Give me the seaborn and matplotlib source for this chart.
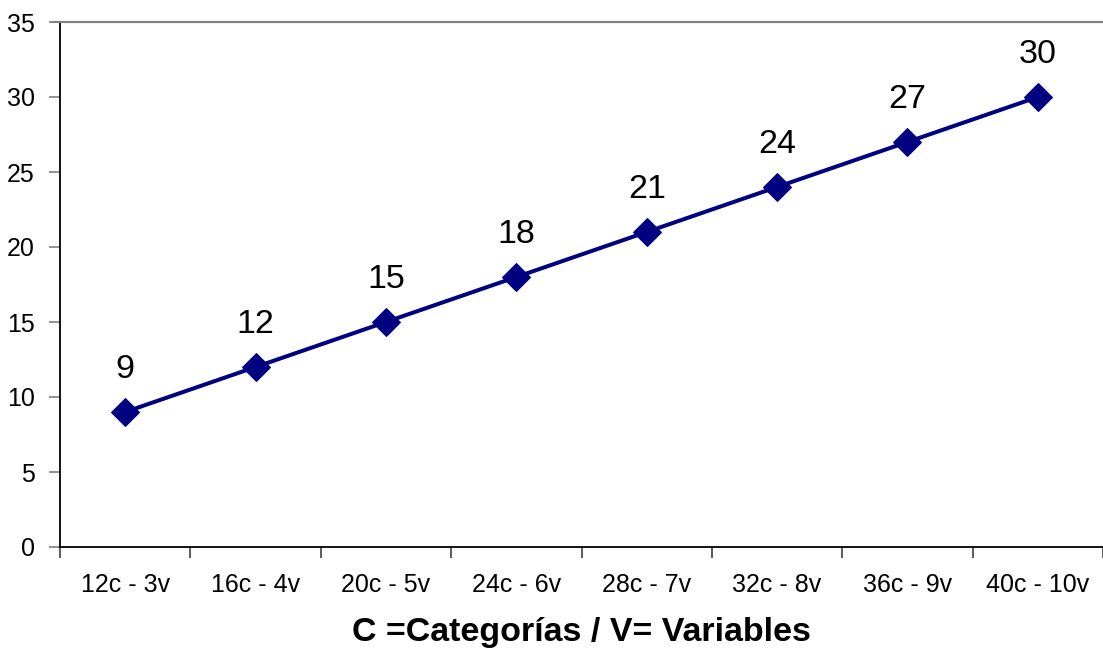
import matplotlib
matplotlib.use("Agg")
import matplotlib.pyplot as plt
import seaborn as sns
import numpy as np
import pandas as pd
from matplotlib.ticker import FixedLocator, MultipleLocator

categories = ["12c - 3v", "16c - 4v", "20c - 5v", "24c - 6v",
              "28c - 7v", "32c - 8v", "36c - 9v", "40c - 10v"]
values = [9, 12, 15, 18, 21, 24, 27, 30]
x_label = "C =Categorías / V= Variables"

sns.set_theme(style="white")
plt.rcParams['font.family'] = ['Liberation Sans', 'DejaVu Sans']
plt.rcParams['text.color'] = 'black'
plt.rcParams['axes.labelcolor'] = 'black'

df = pd.DataFrame({"cat": categories, "val": values})

fig = plt.figure(figsize=(11.03, 6.52), dpi=100)
ax = fig.add_axes([60/1103, 105/652, 1043/1103, 525/652])

navy = "#000080"
sns.lineplot(data=df, x="cat", y="val", ax=ax, color=navy, linewidth=2.9,
             marker="D", markersize=14.5, markeredgecolor=navy,
             markerfacecolor=navy, sort=False)

for i, v in enumerate(values):
    ax.annotate(str(v), (i, v), xytext=(0, 24.5), textcoords="offset points",
                ha="center", va="baseline", fontsize=24.5, color="black")

ax.set_xlim(-0.5, len(categories) - 0.5)
ax.set_ylim(0, 35)
ax.yaxis.set_major_locator(MultipleLocator(5))
ax.set_ylabel("")
ax.set_xlabel(x_label, fontsize=24.5, fontweight="bold", labelpad=14, color="black")

ax.xaxis.set_minor_locator(FixedLocator(np.arange(-0.5, len(categories), 1)))
ax.tick_params(axis="x", which="major", length=0, pad=19, labelsize=18,
               labelcolor="black")
ax.tick_params(axis="x", which="minor", length=8, width=1.2, color="#404040",
               direction="out", bottom=True)
ax.tick_params(axis="y", which="major", length=8, width=1.2, color="#808080",
               direction="out", left=True, pad=10, labelsize=18,
               labelcolor="black")

for side in ["left", "bottom"]:
    ax.spines[side].set_color("black")
    ax.spines[side].set_linewidth(1.3)
ax.spines["top"].set_color("#808080")
ax.spines["top"].set_linewidth(1.5)
ax.spines["right"].set_visible(False)
ax.axhline(35, xmin=-8/1043, xmax=1, color="#808080", lw=1.5, clip_on=False)

fig.savefig("out.png", dpi=100, facecolor="white")
